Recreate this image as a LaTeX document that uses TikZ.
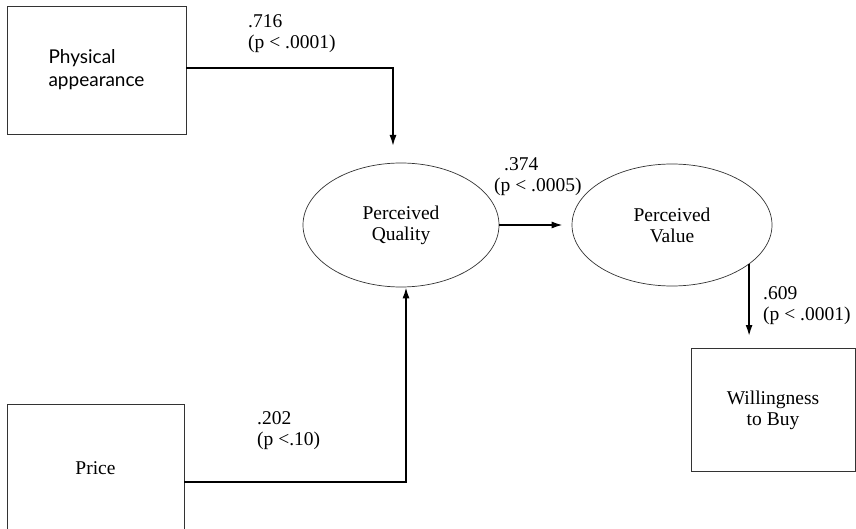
\documentclass[tikz,border=0pt]{standalone}
\usepackage{fontspec}
\setmainfont{Liberation Serif}
\newfontfamily\physfont{Lato}
\usepackage{tikz}
\usetikzlibrary{shapes.geometric, arrows.meta}

\begin{document}
\begin{tikzpicture}[x=1pt, y=-1pt,
    every node/.style={font=\fontsize{19.5}{21}\selectfont},
    varbox/.style={draw=black!80, line width=0.8pt, rectangle, align=center},
    latent/.style={draw=black!80, line width=0.7pt, ellipse, inner sep=0pt, align=center},
    path/.style={line width=1.6pt, -{Latex[length=11pt, width=7pt]}},
    coef/.style={align=left, anchor=north west, inner sep=0pt}]
        \clip (0,0) rectangle (856,529);

        % Observed variables
        \node[varbox, minimum width=179pt, minimum height=128pt, align=left,
              font=\physfont\fontsize{19}{23}\selectfont] (phys) at (96.5,70) {Physical\\appearance};
        \node[varbox, minimum width=177pt, minimum height=128pt] (price) at (95.5,468) {Price};
        \node[varbox, minimum width=164pt, minimum height=123pt] (wtb) at (773,410) {Willingness\\to Buy};

        % Latent constructs
        \node[latent, minimum width=196pt, minimum height=124pt] (pq) at (401,225) {Perceived\\Quality};
        \node[latent, minimum width=200pt, minimum height=122pt] (pv) at (672,225) {Perceived\\Value};

        % Paths
        \coordinate (pqtop) at (393,146);
        \coordinate (wtbtop) at (748,336);
        \draw[path] ([yshift=2pt]phys.east) -| (pqtop);
        \draw[path] ([yshift=-14pt]price.east) -| ([xshift=5pt]pq.south);
        \draw[path] (pq.east) -- ([xshift=-9pt]pv.west);
        \draw[path] (pv.-27.5) -- (pv.-27.5 |- wtbtop);

        % Coefficients
        \node[coef] (c716) at (248,14) {.716\\(p < .0001)};
        \node[coef] (c374) at (494,157) {\hspace{10pt}.374\\(p < .0005)};
        \node[coef] (c609) at (763,286) {.609\\(p < .0001)};
        \node[coef] (c202) at (257,411) {.202\\(p <.10)};
      \end{tikzpicture}
\end{document}
